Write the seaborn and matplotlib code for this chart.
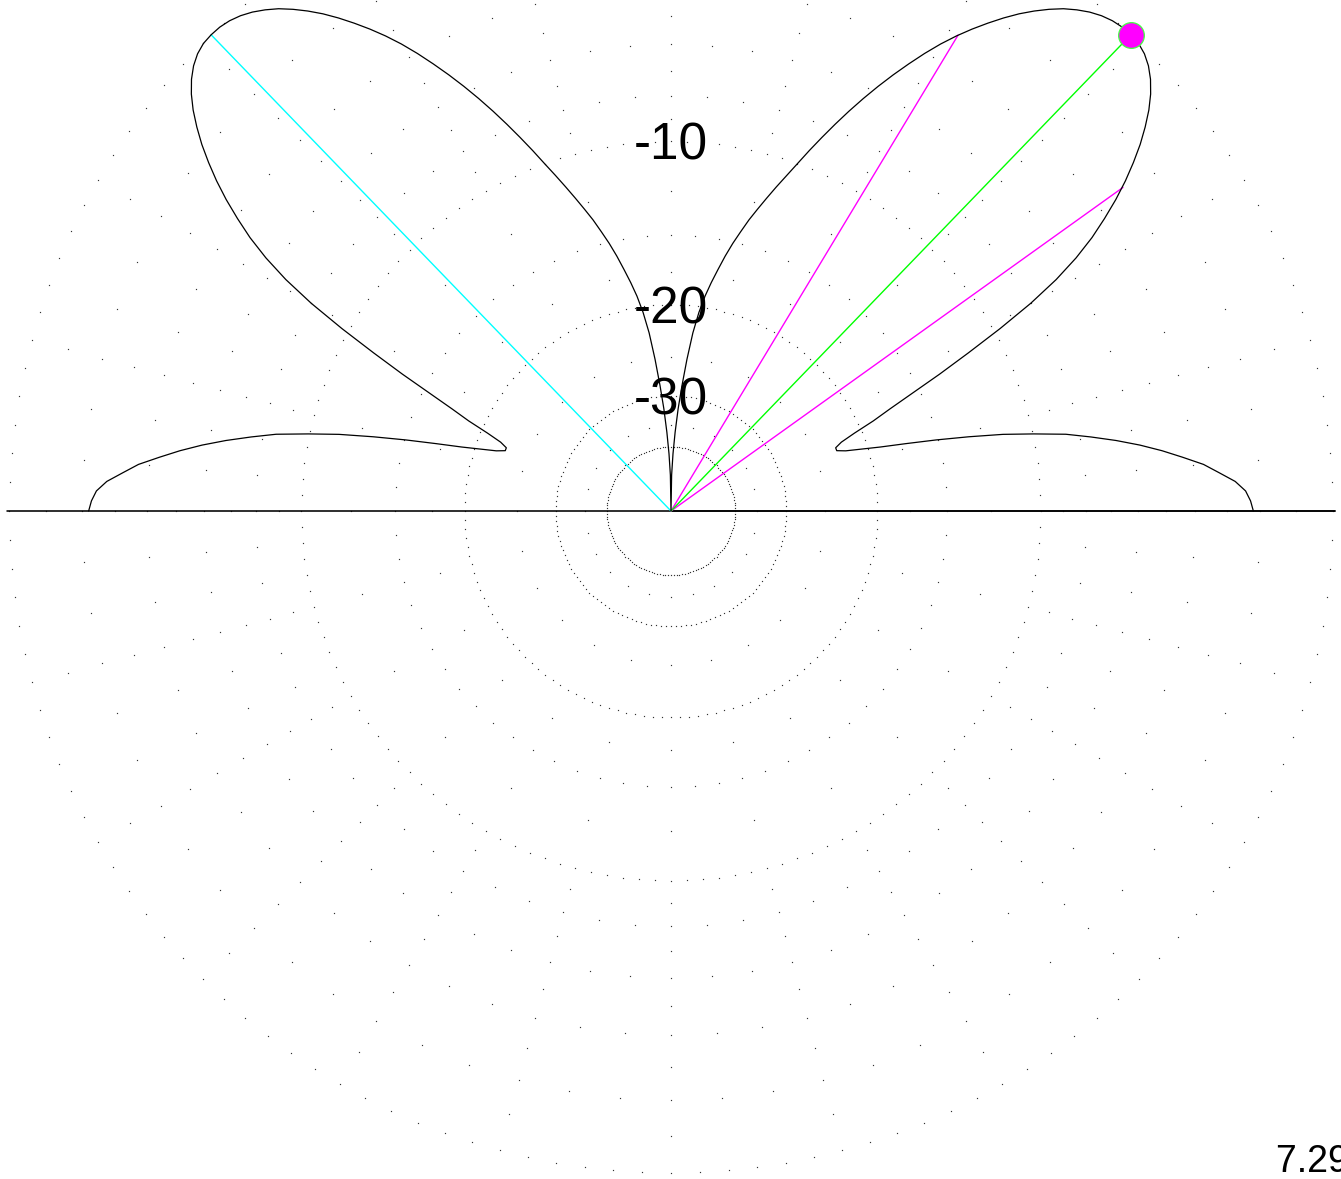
import numpy as np
import matplotlib
matplotlib.use("Agg")
import matplotlib.pyplot as plt
import seaborn as sns

# ---------------- data ----------------
# elevation angle (deg) and gain relative to maximum (dB), right half 0..90
elev_deg = list(range(0, 91))
gain_db = [
    -2.20, -2.28, -2.42, -2.72, -3.20, -3.67, -4.33, -5.00, -5.75, -6.60,
    -7.55, -8.55, -9.95, -11.4, -13.2, -15.1, -17.1, -19.0, -20.5, -21.9,
    -22.7, -22.7, -22.0, -20.6, -18.8, -17.3, -15.5, -13.5, -11.6, -9.7,
    -8.0, -6.65, -5.6, -4.75, -4.05, -3.4, -2.82, -2.30, -1.82, -1.40,
    -1.02, -0.70, -0.44, -0.24, -0.10, -0.02, 0.0, -0.01, -0.06, -0.15,
    -0.28, -0.45, -0.65, -0.90, -1.18, -1.49, -1.84, -2.22, -2.62, -3.05,
    -3.52, -4.04, -4.60, -5.18, -5.79, -6.43, -7.10, -7.80, -8.52, -9.25,
    -10.0, -10.7, -11.4, -12.1, -12.8, -13.5, -14.3, -15.1, -16.0, -17.0,
    -18.0, -19.1, -20.5, -22.4, -25.2, -28.5, -32.0, -36.5, -42.0, -50.0,
    -200.0,
]
ring_levels = [0, -10, -20, -30, -40]
ring_labels = ["-10", "-20", "-30"]
ring_label_levels = [-10, -20, -30]
peak_elev = 46.0
peak_left_elev = 134.0
bw_lo, bw_hi = 35.6, 58.9
bw_db = -3.0
max_gain_text = "7.29 dBi"

# ---------------- helpers ----------------
def arrl(db):
    """ARRL log scale: 2 dB per factor 0.89"""
    return 0.89 ** (-np.asarray(db, dtype=float) / 2.0)

# full pattern 0..180 (symmetric)
th_full = np.array(elev_deg + [180 - e for e in elev_deg[::-1][1:]], dtype=float)
g_full = np.array(gain_db + gain_db[::-1][1:], dtype=float)

W, H = 1341, 1179
cx, cy, R = 671, 511, 662

sns.set_theme(style="white")
plt.rcParams["font.family"] = ["Liberation Sans", "DejaVu Sans"]

fig = plt.figure(figsize=(W / 100, H / 100), dpi=100)
fig.patch.set_facecolor("white")
ax = fig.add_axes([(cx - R) / W, (H - cy - R) / H, 2 * R / W, 2 * R / H],
                  projection="polar")
ax.set_axis_off()
ax.set_ylim(0, 1)

dot_kw = dict(linestyle="none", marker="s", markersize=0.85, color="#333333",
              markeredgewidth=0, clip_on=False)

# dotted rings
for lv in ring_levels:
    t = np.deg2rad(np.arange(0, 360, 2.5))
    ax.plot(t, np.full_like(t, arrl(lv)), **dot_kw)

# radial dotted lines
for a in np.arange(0, 360, 5):
    if a % 15 == 0:
        lv = [-1, -2, -3, -4, -5, -6, -7, -8, -9, -12.5, -15, -17.5, -25, -35]
    else:
        lv = [-2, -4, -6, -8, -15]
    ax.plot(np.full(len(lv), np.deg2rad(a)), arrl(lv), **dot_kw)

# horizon line
ax.plot([0, np.pi], [1.003, 1.003], color="black", lw=1.15, clip_on=False)
ax.plot([0, 0], [0, 1.003], color="black", lw=1.15, clip_on=False)

# coloured lines
ax.plot([0, np.deg2rad(peak_left_elev)], [0, 1.0], color="#00ffff", lw=1.0, clip_on=False)
ax.plot([0, np.deg2rad(bw_hi)], [0, arrl(bw_db)], color="#ff00ff", lw=1.0, clip_on=False)
ax.plot([0, np.deg2rad(bw_lo)], [0, arrl(bw_db)], color="#ff00ff", lw=1.0, clip_on=False)
ax.plot([0, np.deg2rad(peak_elev)], [0, 1.0], color="#00ff00", lw=1.0, clip_on=False)

# pattern
sns.lineplot(x=np.deg2rad(th_full), y=arrl(g_full), ax=ax, sort=False,
             estimator=None, color="black", lw=0.9)
for l in ax.lines:
    l.set_clip_on(False)

# peak marker
ax.plot([np.deg2rad(peak_elev)], [1.0], marker="o", markersize=18.5,
        markerfacecolor="#ff00ff", markeredgecolor="#44ff44", markeredgewidth=0.9,
        linestyle="none", clip_on=False, zorder=5)

# ring labels
for txt, lv in zip(ring_labels, ring_label_levels):
    ry = cy - R * arrl(lv)
    fig.text(cx / W, (H - (ry + 18.5)) / H, txt, ha="center", va="baseline",
             fontsize=37, color="black")

fig.text(1276 / W, (H - 1172) / H, max_gain_text, ha="left", va="baseline",
         fontsize=27, color="black")

ax.set_xlabel("")
ax.set_ylabel("")
fig.savefig("out.png", dpi=100, facecolor="white")
